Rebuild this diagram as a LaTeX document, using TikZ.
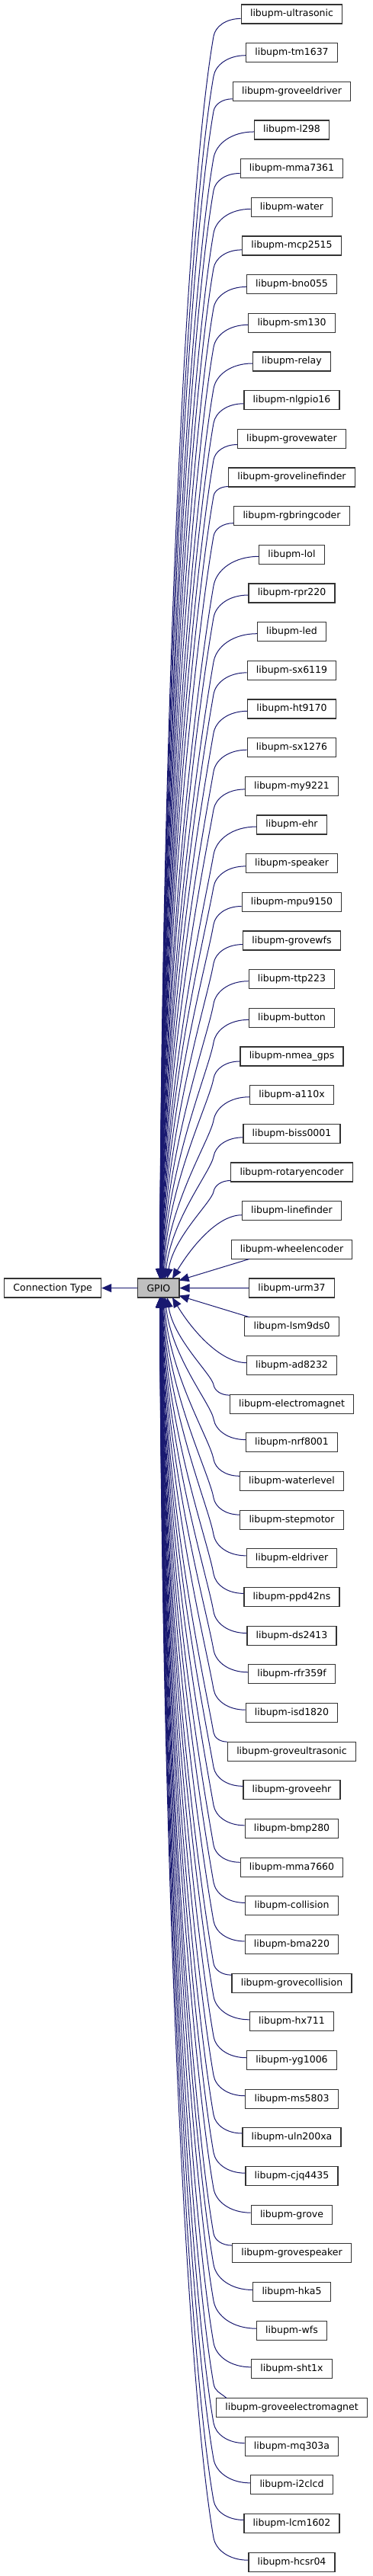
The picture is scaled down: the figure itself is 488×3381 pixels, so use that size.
\documentclass[tikz,border=0pt]{standalone}
\usepackage{fontspec}
\setmainfont{DejaVu Sans}
\usetikzlibrary{arrows.meta}
\definecolor{edgeblue}{HTML}{191970}
\definecolor{gpiogray}{HTML}{BFBFBF}
\begin{document}
\begin{tikzpicture}[x=1pt,y=1pt,
  box/.style={draw=black!80, line width=1.2pt, fill=white, minimum height=25pt,
    inner xsep=11.7pt, inner ysep=0pt, font=\fontsize{12.5}{15}\selectfont},
  edge/.style={draw=edgeblue, line width=1pt, -{Triangle[length=13pt,width=11pt]}}]
\useasboundingbox (0,0) rectangle (488,3381);
\node[box, fill=gpiogray] (gpio) at (207.9,1690.4) {GPIO};
\node[box] (ct) at (69.2,1690.4) {Connection Type};
\draw[edge] (gpio) -- (ct);
\foreach \nm [count=\q] in {ultrasonic, tm1637, groveeldriver, l298, mma7361, water, mcp2515, bno055, sm130, relay, nlgpio16, grovewater, grovelinefinder, rgbringcoder, lol, rpr220, led, sx6119, ht9170, sx1276, my9221, ehr, speaker, mpu9150, grovewfs, ttp223, button, nmea\_gps, a110x, biss0001, rotaryencoder, linefinder, wheelencoder, urm37, lsm9ds0, ad8232, electromagnet, nrf8001, waterlevel, stepmotor, eldriver, ppd42ns, ds2413, rfr359f, isd1820, groveultrasonic, groveehr, bmp280, mma7660, collision, bma220, grovecollision, hx711, yg1006, ms5803, uln200xa, cjq4435, grove, grovespeaker, hka5, wfs, sht1x, groveelectromagnet, mq303a, i2clcd, lcm1602, hcsr04}{
  \node[box] (n\q) at (382.5,{3362.5-(\q-1)*50.67}) {libupm-\nm};
}
\foreach \q in {1,...,67}{
  \pgfmathtruncatemacro\jj{\q-34}
  \pgfmathtruncatemacro\mm{abs(\jj)}
  \ifnum\mm=0
    \draw[edge] (n\q.west) -- (gpio.east);
  \else
    \ifnum\jj<0 \def\sig{1}\else\def\sig{-1}\fi
    \pgfpointanchor{n\q}{west}\pgfgetlastxy{\xa}{\ya}
    \pgfmathsetmacro\xw{\xa}
    \pgfmathsetmacro\yc{\ya}
    \ifnum\mm=1
      \pgfmathsetmacro\sx{max(\xw+5,327)}
      \pgfmathsetmacro\sy{\yc-12.5*(\sig)}
      \pgfmathsetmacro\ey{1690.4+10*(\sig)}
      \draw[edge] (\sx,\sy) -- (234.7,\ey);
    \else
      \pgfmathsetmacro\sx{max(\xw,297)}
      \pgfmathsetmacro\off{min(12.5,max(2.5,2.5+(325-\xw)*0.37))}
      \pgfmathsetmacro\sy{\yc-\off*(\sig)}
      \pgfmathsetmacro\ee{(\sx>\xw+1) ? 8 : 0}
      \pgfmathsetmacro\ey{1690.4+12.5*(\sig)}
      \ifnum\mm=2
        \pgfmathsetmacro\ex{226}
        \pgfmathsetmacro\dy{abs(\sy-\ey)}
        \draw[edge] (\sx,\sy) .. controls ({\sx-0.35*(\sx-\ex)},\sy) and ({\ex+0.3*\dy},{\ey+(\sig)*0.5*\dy}) .. (\ex,\ey);
      \else
        \pgfmathsetmacro\ex{208.5+32/\mm}
        \pgfmathsetmacro\bx{min(280,\sx-15)}
        \pgfmathsetmacro\by{\sy-(\sig)*max(12,0.65*(\sx-\bx)+\ee)}
        \pgfmathsetmacro\dd{abs(\by-\ey)}
        \pgfmathsetmacro\kk{0.55*abs(\by-\sy)}
        \pgfmathsetmacro\tl{0.8/(\mm^1.5)}
        \draw[edge] (\sx,\sy) .. controls ({\sx-0.55*(\sx-\bx)},{\sy-(\sig)*\ee}) and ({\bx+0.175*\kk},{\by+(\sig)*\kk}) .. (\bx,\by)
          .. controls ({\bx-0.175*0.12*\dd},{\by-(\sig)*0.12*\dd}) and ({\ex+\tl*0.48*\dd},{\ey+(\sig)*0.48*\dd}) .. (\ex,\ey);
      \fi
    \fi
  \fi
}
\end{tikzpicture}
\end{document}
